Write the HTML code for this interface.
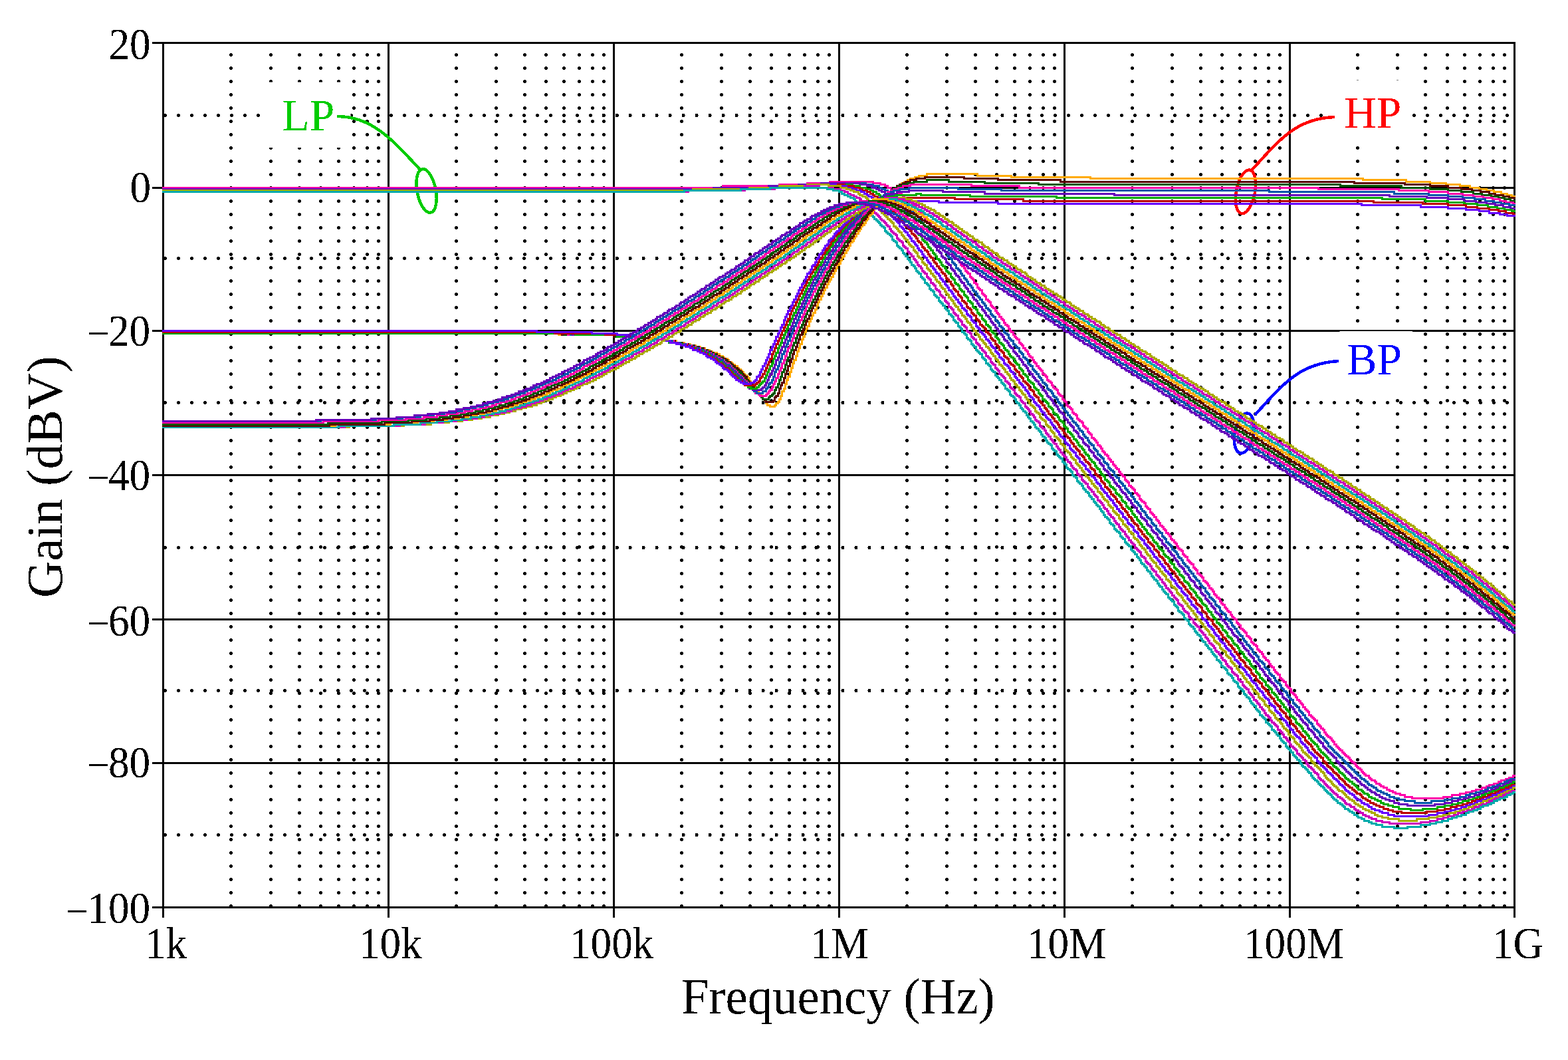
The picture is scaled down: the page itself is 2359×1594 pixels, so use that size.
<!DOCTYPE html>
<html lang="en"><head><meta charset="utf-8"><title>Filter gain versus frequency</title>
<style>html,body{margin:0;padding:0;background:#fff;overflow:hidden}svg{display:block}text{font-family:"Liberation Serif","DejaVu Serif",serif}</style></head>
<body>
<svg xmlns="http://www.w3.org/2000/svg" width="2359" height="1594" viewBox="0 0 2359 1594">
<defs><filter id="bin" x="-5%" y="-5%" width="110%" height="110%" color-interpolation-filters="sRGB"><feComponentTransfer><feFuncA type="discrete" tableValues="0 1"/></feComponentTransfer></filter></defs>
<rect width="2359" height="1594" fill="#fff"/>
<g stroke="#000" stroke-width="5" stroke-linecap="round" fill="none" shape-rendering="crispEdges">
<path stroke-dasharray="0 20" d="M347.5 82.5V1363M407.5 82.5V1363M450.5 82.5V1363M482.5 82.5V1363M509.5 82.5V1363M532.5 82.5V1363M552.5 82.5V1363M569.5 82.5V1363M686.5 82.5V1363M746.5 82.5V1363M789.5 82.5V1363M821.5 82.5V1363M848.5 82.5V1363M871.5 82.5V1363M891.5 82.5V1363M908.5 82.5V1363M1025.5 82.5V1363M1085.5 82.5V1363M1128.5 82.5V1363M1160.5 82.5V1363M1187.5 82.5V1363M1210.5 82.5V1363M1230.5 82.5V1363M1247.5 82.5V1363M1364.5 82.5V1363M1424.5 82.5V1363M1467.5 82.5V1363M1499.5 82.5V1363M1526.5 82.5V1363M1549.5 82.5V1363M1569.5 82.5V1363M1586.5 82.5V1363M1703.5 82.5V1363M1763.5 82.5V1363M1806.5 82.5V1363M1838.5 82.5V1363M1865.5 82.5V1363M1888.5 82.5V1363M1908.5 82.5V1363M1925.5 82.5V1363M2042.5 82.5V1363M2102.5 82.5V1363M2144.5 82.5V1363M2177.5 82.5V1363M2203.5 82.5V1363M2226.5 82.5V1363M2246.5 82.5V1363M2263.5 82.5V1363"/>
<path stroke-dasharray="0 19.99" d="M248.5 173.5H2270M248.5 388.5H2270M248.5 605.5H2270M248.5 823.5H2270M248.5 1038.5H2270M248.5 1255.5H2270"/>
</g>
<g stroke="#000" stroke-width="3" fill="none" shape-rendering="crispEdges">
<path d="M245.5 63V1380M584.5 63V1380M923.5 63V1380M1262.5 63V1380M1601.5 63V1380M1940.5 63V1380M2278.5 63V1380M229 64.5H2280M229 282.5H2280M229 497.5H2280M229 714.5H2280M229 931.5H2280M229 1147.5H2280M229 1364.5H2280"/>
</g>
<rect x="401" y="123.5" width="126.5" height="98.5" fill="#fff"/>
<rect x="1998" y="120.5" width="126" height="98.5" fill="#fff"/>
<rect x="2015.5" y="498" width="109.5" height="98.3" fill="#fff"/>
<g fill="none" stroke="#00cc00" stroke-width="4.5" stroke-linecap="butt" shape-rendering="crispEdges"><path d="M507 175C560 175 590 210 632 255"/><ellipse cx="641.6" cy="287" rx="14" ry="33.3" transform="rotate(-11 641.6 287)"/></g>
<g fill="none" stroke="#ff0000" stroke-width="4.5" stroke-linecap="butt" shape-rendering="crispEdges"><path d="M2008 176C1950 178 1925 210 1883 256"/><ellipse cx="1874" cy="288.3" rx="14" ry="33.3" transform="rotate(11 1874 288.3)"/></g>
<g fill="none" stroke="#0000ff" stroke-width="4.5" stroke-linecap="butt" shape-rendering="crispEdges"><path d="M2014 543C1955 546 1930 578 1888 624"/><ellipse cx="1871.8" cy="651.5" rx="14" ry="30.5" transform="rotate(11 1871.8 651.5)"/></g>
<g fill="none" stroke-width="3" stroke-linejoin="miter" stroke-linecap="butt" shape-rendering="crispEdges">
<path stroke="#ff00aa" d="M244 282.5h843.5v-3h85v-2h42v-2h34v-2h65v2h11v2h7v2h4v3h5v2h4v2h5v2h2v3h5v2h2v2h2v2h5v2h2v3h2v2h2v2h3v2h2v3h2v2h2v2h2v2h3v3h2v2h2v4h2v3h3v2h2v2h2v2h2v5h3v2h2v2h2v3h2v4h3v2h2v2h2v3h2v4h3v2h2v3h2v4h2v2h3v3h2v4h2v2h2v3h2v4h3v2h2v3h2v4h2v2h3v3h2v4h2v2h2v2h3v5h2v2h2v2h2v5h3v2h2v5h2v2h2v2h3v5h2v2h2v2h2v5h3v2h2v2h2v5h2v2h2v2h3v4h2v3h2v2h2v4h3v3h2v2h2v4h2v3h3v2h2v4h2v3h2v2h3v4h2v3h2v2h2v2h3v5h2v2h2v2h2v4h3v3h2v2h2v4h2v3h2v2h3v4h2v3h2v2h2v4h3v3h2v2h2v2h2v5h3v2h2v2h2v5h2v2h3v2h2v4h2v3h2v2h3v2h2v5h2v2h2v2h3v5h2v2h2v2h2v5h2v2h3v2h2v2h2v5h2v2h3v2h2v5h2v2h2v2h3v2h2v5h2v2h2v2h3v5h2v2h2v2h2v5h3v2h2v2h2v3h2v4h3v2h2v3h2v4h2v2h2v3h3v2h2v4h2v2h2v3h3v4h2v2h2v3h2v2h3v4h2v3h2v2h2v2h3v5h2v2h2v2h2v5h3v2h2v2h2v2h2v5h3v2h2v2h2v5h2v2h2v2h3v2h2v5h2v2h2v2h3v5h2v2h2v2h2v3h3v4h2v2h2v3h2v4h3v2h2v3h2v2h2v4h3v2h2v3h2v4h2v2h3v3h2v2h2v4h2v3h2v2h3v2h2v5h2v2h2v2h3v5h2v2h2v2h2v2h3v5h2v2h2v2h2v5h3v2h2v2h2v2h2v5h3v2h2v2h2v3h2v4h3v2h2v3h2v4h2v2h2v3h3v2h2v4h2v3h2v2h3v4h2v2h2v3h2v2h3v4h2v3h2v2h2v2h3v5h2v2h2v2h2v5h3v2h2v2h2v2h2v5h3v2h2v2h2v5h2v2h2v2h3v2h2v5h2v2h2v2h3v3h2v4h2v2h2v3h3v2h2v4h2v3h2v2h3v4h2v3h2v2h2v2h3v5h2v2h2v2h2v2h3v5h2v2h2v2h2v2h2v5h3v2h2v2h2v3h2v4h3v2h2v3h2v2h2v4h3v3h2v2h2v2h2v5h3v2h2v2h2v2h2v2h3v5h2v2h2v2h2v3h3v2h2v4h2v3h2v2h2v2h3v2h2v3h2v2h2v4h3v3h2v2h2v2h2v2h3v3h2v2h2v2h2v2h3v2h2v3h2v2h2v2h3v2h2v3h2v2h2v2h3v2h2v3h2v2h2v2h2v2h5v3h2v2h2v2h5v2h2v3h5v2h2v2h4v2h5v3h4v2h5v2h4v2h7v2h7v3h11v2h47v-2h13v-3h12v-2h9v-2h9v-2h6v-2h9v-3h7v-2h4v-2h7v-2h7v-3h4v-2h7v-2h5v-2h6v-3h3.5"/>
<path stroke="#0055aa" d="M244 284.5h836.5v-2h85v-3h43v-2h33v-2h61v2h11v2h9v3h4v2h5v2h4v2h5v3h2v2h5v2h2v2h2v2h5v3h2v2h2v2h2v2h3v3h2v2h2v2h2v2h3v3h2v2h2v2h2v2h2v5h3v2h2v2h2v3h2v2h3v4h2v3h2v2h2v2h3v4h2v3h2v2h2v4h3v3h2v2h2v2h2v5h3v2h2v2h2v5h2v2h3v2h2v5h2v2h2v2h2v5h3v2h2v2h2v4h2v3h3v4h2v2h2v3h2v4h3v2h2v3h2v4h2v2h3v3h2v4h2v2h2v3h3v4h2v2h2v3h2v4h3v2h2v2h2v5h2v2h2v2h3v5h2v2h2v2h2v5h3v2h2v2h2v5h2v2h3v2h2v5h2v2h2v2h3v5h2v2h2v2h2v2h3v5h2v2h2v2h2v5h3v2h2v2h2v5h2v2h2v2h3v5h2v2h2v2h2v3h3v4h2v2h2v3h2v4h3v2h2v2h2v5h2v2h3v2h2v3h2v4h2v2h3v3h2v4h2v2h2v3h3v4h2v2h2v3h2v2h2v4h3v3h2v2h2v4h2v2h3v3h2v2h2v4h2v3h3v2h2v4h2v3h2v2h3v4h2v3h2v2h2v2h3v5h2v2h2v2h2v5h3v2h2v2h2v2h2v5h2v2h3v2h2v5h2v2h2v2h3v2h2v5h2v2h2v2h3v5h2v2h2v2h2v3h3v4h2v2h2v3h2v2h3v4h2v2h2v3h2v4h3v2h2v3h2v2h2v4h2v3h3v2h2v4h2v3h2v2h3v2h2v5h2v2h2v2h3v5h2v2h2v2h2v2h3v5h2v2h2v2h2v5h3v2h2v2h2v2h2v5h3v2h2v2h2v3h2v4h2v2h3v3h2v4h2v2h2v3h3v2h2v4h2v2h2v3h3v4h2v2h2v3h2v2h3v4h2v3h2v2h2v2h3v5h2v2h2v2h2v5h3v2h2v2h2v2h2v5h2v2h3v2h2v5h2v2h2v2h3v2h2v5h2v2h2v2h3v3h2v4h2v2h2v3h3v4h2v2h2v3h2v2h3v4h2v3h2v2h2v4h3v2h2v3h2v2h2v4h2v3h3v2h2v2h2v5h2v2h3v2h2v2h2v5h2v2h3v2h2v5h2v2h2v2h3v3h2v4h2v2h2v2h3v3h2v4h2v2h2v3h3v2h2v4h2v3h2v2h2v2h3v5h2v2h2v2h2v2h3v5h2v2h2v2h2v3h3v4h2v2h2v2h2v3h3v2h2v4h2v3h2v2h3v2h2v2h2v5h2v2h3v2h2v3h2v2h2v2h2v5h3v2h2v2h2v2h2v3h3v2h2v2h2v2h2v2h3v3h2v2h2v2h2v2h3v3h2v2h2v2h2v2h3v3h2v2h2v2h2v2h3v3h2v2h4v2h2v2h3v3h2v2h4v2h3v2h4v3h2v2h5v2h4v2h5v2h4v3h7v2h7v2h9v2h15v3h25v-3h20v-2h11v-2h12v-2h9v-3h6v-2h9v-2h7v-2h7v-2h4v-3h7v-2h7v-2h4v-2h7v-3h4v-2h5v-2h7.5"/>
<path stroke="#6600bb" d="M244 284.5h829.5v-2h83v-3h45v-2h34v-2h58v2h11v2h7v3h7v2h4v2h4v2h5v3h2v2h5v2h2v2h2v2h5v3h2v2h2v2h2v2h3v3h2v2h2v2h2v2h3v3h2v2h2v2h2v2h3v3h2v4h2v2h2v3h2v2h3v2h2v5h2v2h2v2h3v2h2v5h2v2h2v2h3v5h2v2h2v2h2v5h3v2h2v2h2v5h2v2h3v2h2v5h2v2h2v2h3v5h2v2h2v2h2v4h2v3h3v2h2v4h2v3h2v2h3v4h2v3h2v2h2v4h3v3h2v2h2v4h2v3h3v2h2v4h2v3h2v2h3v4h2v2h2v3h2v4h3v2h2v3h2v4h2v2h2v3h3v4h2v2h2v3h2v4h3v2h2v3h2v4h2v2h3v3h2v4h2v2h2v2h3v5h2v2h2v2h2v3h3v4h2v2h2v3h2v4h3v2h2v3h2v4h2v2h2v3h3v4h2v2h2v3h2v2h3v4h2v2h2v3h2v4h3v2h2v3h2v4h2v2h3v3h2v2h2v4h2v3h3v2h2v4h2v3h2v2h3v2h2v5h2v2h2v2h2v4h3v3h2v2h2v2h2v5h3v2h2v2h2v5h2v2h3v2h2v5h2v2h2v2h3v2h2v5h2v2h2v2h3v5h2v2h2v2h2v2h3v5h2v2h2v2h2v5h2v2h3v2h2v3h2v4h2v2h3v3h2v4h2v2h2v3h3v2h2v4h2v3h2v2h3v2h2v4h2v3h2v2h3v4h2v3h2v2h2v2h3v5h2v2h2v2h2v5h2v2h3v2h2v2h2v5h2v2h3v2h2v5h2v2h2v2h3v2h2v5h2v2h2v2h3v5h2v2h2v2h2v3h3v4h2v2h2v3h2v2h3v4h2v3h2v2h2v4h2v3h3v2h2v2h2v4h2v3h3v2h2v4h2v3h2v2h3v2h2v5h2v2h2v2h3v2h2v5h2v2h2v2h3v5h2v2h2v2h2v3h3v4h2v2h2v2h2v5h2v2h3v2h2v3h2v4h2v2h3v3h2v2h2v4h2v3h3v2h2v4h2v3h2v2h3v2h2v5h2v2h2v2h3v4h2v3h2v2h2v2h3v5h2v2h2v2h2v2h2v5h3v2h2v2h2v3h2v4h3v2h2v3h2v4h2v2h3v3h2v2h2v4h2v2h3v3h2v2h2v4h2v3h3v2h2v2h2v5h2v2h3v2h2v2h2v5h2v2h2v2h3v3h2v4h2v2h2v3h3v2h2v4h2v2h2v3h3v2h2v2h2v5h2v2h3v2h2v2h2v3h2v4h3v2h2v3h2v2h2v2h3v5h2v2h2v2h2v2h2v3h3v2h2v2h2v2h2v2h3v5h2v2h2v2h2v3h3v2h2v2h2v2h2v3h3v2h2v2h2v2h2v3h5v2h2v2h2v2h3v3h2v2h4v2h2v2h3v3h4v2h2v2h5v2h2v2h5v3h4v2h5v2h6v2h7v3h7v2h13v2h41v-2h15v-2h11v-3h9v-2h9v-2h7v-2h9v-3h7v-2h6v-2h5v-2h7v-2h6v-3h5v-2h7v-2h4v-2h5v-3h4v-2h5.5"/>
<path stroke="#00aa00" d="M244 286.5h820.5v-2h86v-2h44v-3h36v-2h52v2h11v3h9v2h7v2h4v2h5v3h4v2h2v2h5v2h2v2h2v3h5v2h2v2h2v2h2v3h3v2h2v2h2v2h2v3h3v2h2v2h2v2h2v3h3v2h2v4h2v3h2v2h3v2h2v2h2v5h2v2h2v2h3v2h2v5h2v2h2v2h3v3h2v4h2v2h2v3h3v4h2v2h2v3h2v4h3v2h2v3h2v4h2v2h3v3h2v4h2v2h2v2h3v5h2v2h2v2h2v5h2v2h3v2h2v5h2v2h2v2h3v5h2v2h2v2h2v5h3v2h2v2h2v5h2v2h3v2h2v5h2v2h2v2h3v5h2v2h2v2h2v5h3v2h2v2h2v5h2v2h2v2h3v5h2v2h2v2h2v5h3v2h2v2h2v4h2v3h3v2h2v4h2v3h2v2h3v2h2v5h2v2h2v2h3v5h2v2h2v2h2v5h3v2h2v2h2v5h2v2h2v2h3v2h2v5h2v2h2v2h3v5h2v2h2v2h2v5h3v2h2v2h2v2h2v5h3v2h2v2h2v5h2v2h3v2h2v3h2v4h2v2h3v2h2v5h2v2h2v2h2v5h3v2h2v2h2v3h2v4h3v2h2v3h2v4h2v2h3v3h2v2h2v4h2v3h3v2h2v4h2v2h2v3h3v2h2v4h2v3h2v2h3v4h2v3h2v2h2v2h2v5h3v2h2v2h2v5h2v2h3v2h2v2h2v5h2v2h3v2h2v2h2v5h2v2h3v2h2v5h2v2h2v2h3v3h2v4h2v2h2v3h3v4h2v2h2v3h2v2h2v4h3v3h2v2h2v4h2v2h3v3h2v2h2v4h2v3h3v2h2v4h2v3h2v2h3v2h2v5h2v2h2v2h3v2h2v5h2v2h2v2h3v5h2v2h2v2h2v2h2v5h3v2h2v2h2v5h2v2h3v2h2v3h2v4h2v2h3v3h2v2h2v4h2v3h3v2h2v4h2v3h2v2h3v2h2v4h2v3h2v2h3v4h2v3h2v2h2v2h2v5h3v2h2v2h2v2h2v5h3v2h2v2h2v5h2v2h3v2h2v3h2v4h2v2h3v2h2v3h2v4h2v2h3v3h2v4h2v2h2v3h3v2h2v4h2v3h2v2h2v2h3v5h2v2h2v2h2v5h3v2h2v2h2v2h2v5h3v2h2v2h2v2h2v5h3v2h2v2h2v3h2v4h3v2h2v3h2v2h2v4h3v3h2v2h2v2h2v5h2v2h3v2h2v2h2v5h2v2h3v2h2v2h2v3h2v4h3v2h2v3h2v2h2v4h3v3h2v2h2v2h2v2h3v3h2v4h2v2h2v3h3v2h2v2h2v2h2v2h2v3h3v4h2v2h2v3h2v2h3v2h2v2h2v3h2v2h3v2h2v2h2v3h2v2h3v2h2v2h4v3h3v2h2v2h2v2h2v3h5v2h2v2h2v2h5v2h2v3h4v2h5v2h4v2h5v3h4v2h7v2h7v2h9v3h18v2h18v-2h22v-3h11v-2h11v-2h9v-2h7v-3h9v-2h7v-2h6v-2h7v-3h5v-2h6v-2h5v-2h7v-2h4v-3h7v-2h4v-2h5v-2h4v-3h3.5"/>
<path stroke="#bb0000" d="M244 286.5h814.5v-2h85v-2h42v-3h38v-2h47v2h14v3h9v2h4v2h7v2h5v3h4v2h2v2h5v2h2v2h2v3h5v2h2v2h2v2h2v3h3v2h2v2h2v2h2v3h3v2h2v2h2v2h2v3h3v2h2v2h2v5h2v2h3v2h2v2h2v3h2v4h3v2h2v2h2v3h2v4h2v2h3v3h2v4h2v2h2v3h3v2h2v4h2v3h2v2h3v4h2v3h2v2h2v4h3v3h2v2h2v4h2v2h3v3h2v4h2v2h2v3h3v4h2v2h2v5h2v2h2v2h3v5h2v2h2v2h2v5h3v2h2v2h2v5h2v2h3v2h2v5h2v2h2v2h3v5h2v2h2v2h2v5h3v2h2v2h2v2h2v5h3v2h2v2h2v5h2v2h2v2h3v5h2v2h2v2h2v5h3v2h2v2h2v5h2v2h3v2h2v5h2v2h2v2h3v2h2v5h2v2h2v2h3v5h2v2h2v2h2v5h3v2h2v2h2v2h2v5h2v2h3v2h2v5h2v2h2v2h3v5h2v2h2v2h2v3h3v4h2v2h2v3h2v4h3v2h2v3h2v2h2v4h3v2h2v3h2v4h2v2h3v3h2v4h2v2h2v3h2v2h3v4h2v3h2v2h2v4h3v3h2v2h2v2h2v5h3v2h2v2h2v4h2v3h3v2h2v2h2v5h2v2h3v2h2v5h2v2h2v2h3v2h2v5h2v2h2v2h2v5h3v2h2v2h2v3h2v4h3v2h2v2h2v3h2v4h3v2h2v3h2v4h2v2h3v3h2v2h2v4h2v3h3v2h2v4h2v3h2v2h3v2h2v5h2v2h2v2h2v4h3v3h2v2h2v2h2v5h3v2h2v2h2v2h2v5h3v2h2v2h2v5h2v2h3v2h2v3h2v4h2v2h3v3h2v4h2v2h2v2h3v3h2v4h2v2h2v3h2v4h3v2h2v3h2v2h2v4h3v3h2v2h2v2h2v5h3v2h2v2h2v5h2v2h3v2h2v2h2v5h2v2h3v2h2v5h2v2h2v2h3v2h2v5h2v2h2v2h2v3h3v4h2v2h2v3h2v4h3v2h2v3h2v2h2v4h3v2h2v3h2v2h2v4h3v3h2v2h2v4h2v3h3v2h2v2h2v5h2v2h3v2h2v2h2v5h2v2h2v2h3v5h2v2h2v2h2v2h3v5h2v2h2v2h2v3h3v4h2v2h2v3h2v2h3v4h2v3h2v2h2v2h3v5h2v2h2v2h2v2h3v5h2v2h2v2h2v2h2v5h3v2h2v2h2v3h2v4h3v2h2v3h2v2h2v2h3v5h2v2h2v2h2v2h3v3h2v4h2v2h2v3h3v2h2v2h2v2h2v2h3v5h2v2h2v2h2v3h2v2h3v2h2v2h2v3h2v2h3v2h2v2h2v3h2v2h3v2h2v2h2v3h2v2h3v2h2v2h4v3h3v2h2v2h2v2h5v2h2v3h2v2h4v2h3v2h4v3h5v2h4v2h5v2h6v3h7v2h7v2h13v2h38v-2h16v-2h11v-2h9v-3h9v-2h9v-2h7v-2h7v-3h6v-2h7v-2h4v-2h7v-3h5v-2h6v-2h5v-2h4v-2h7v-3h5v-2h4v-2h5.5"/>
<path stroke="#6600ff" d="M244 286.5h807.5v-2h85v-2h43v-3h40v-2h38v2h16v3h9v2h6v2h7v2h5v3h4v2h2v2h5v2h2v2h2v3h5v2h2v2h2v2h2v3h3v2h2v2h2v2h2v3h3v2h2v2h2v2h2v3h3v2h2v2h2v2h2v5h3v2h2v2h2v3h2v2h3v4h2v2h2v3h2v4h3v2h2v3h2v2h2v4h2v3h3v2h2v4h2v3h2v2h3v4h2v3h2v2h2v4h3v3h2v2h2v4h2v2h3v3h2v4h2v2h2v3h3v4h2v2h2v3h2v4h3v2h2v3h2v4h2v2h2v3h3v4h2v2h2v3h2v4h3v2h2v2h2v5h2v2h3v2h2v5h2v2h2v2h3v5h2v2h2v2h2v5h3v2h2v2h2v3h2v4h3v2h2v3h2v4h2v2h2v2h3v5h2v2h2v2h2v5h3v2h2v2h2v5h2v2h3v2h2v3h2v4h2v2h3v3h2v4h2v2h2v3h3v4h2v2h2v2h2v3h3v4h2v2h2v3h2v4h2v2h3v3h2v4h2v2h2v3h3v2h2v4h2v3h2v2h3v4h2v3h2v2h2v2h3v4h2v3h2v2h2v4h3v3h2v2h2v4h2v3h3v2h2v2h2v5h2v2h2v2h3v5h2v2h2v2h2v2h3v5h2v2h2v2h2v5h3v2h2v2h2v2h2v5h3v2h2v2h2v5h2v2h3v2h2v3h2v4h2v2h3v3h2v4h2v2h2v3h2v2h3v4h2v2h2v3h2v2h3v4h2v3h2v2h2v4h3v3h2v2h2v2h2v5h3v2h2v2h2v5h2v2h3v2h2v2h2v5h2v2h3v2h2v5h2v2h2v2h2v2h3v5h2v2h2v2h2v3h3v4h2v2h2v3h2v4h3v2h2v3h2v2h2v4h3v3h2v2h2v4h2v2h3v3h2v2h2v4h2v3h3v2h2v4h2v3h2v2h2v2h3v5h2v2h2v2h2v2h3v5h2v2h2v2h2v5h3v2h2v2h2v2h2v5h3v2h2v2h2v5h2v2h3v2h2v3h2v4h2v2h3v3h2v2h2v4h2v3h2v2h3v4h2v3h2v2h2v2h3v4h2v3h2v2h2v2h3v5h2v2h2v2h2v5h3v2h2v2h2v2h2v5h3v2h2v2h2v3h2v4h3v2h2v3h2v4h2v2h2v2h3v3h2v4h2v2h2v3h3v2h2v4h2v3h2v2h3v2h2v5h2v2h2v2h3v2h2v5h2v2h2v2h3v3h2v4h2v2h2v2h3v3h2v4h2v2h2v3h2v2h3v4h2v3h2v2h2v2h3v2h2v5h2v2h2v2h3v3h2v2h2v4h2v3h3v2h2v2h2v2h2v2h3v5h2v2h2v2h2v3h3v2h2v2h2v2h2v3h2v2h3v2h2v2h2v3h2v2h3v2h2v2h2v3h2v2h3v2h2v2h2v3h2v2h3v2h2v2h4v2h3v3h2v2h2v2h5v2h2v3h4v2h5v2h2v2h4v3h5v2h7v2h4v2h9v3h9v2h52v-2h13v-3h11v-2h9v-2h7v-2h9v-3h7v-2h6v-2h7v-2h4v-3h7v-2h7v-2h4v-2h5v-3h7v-2h4v-2h5v-2h4v-2h7v-3h4v-2h3.5"/>
<path stroke="#aaaa00" d="M244 286.5h798.5v-2h85v-2h45v-3h42v-2h32v2h18v3h9v2h6v2h5v2h7v3h2v2h4v2h5v2h2v2h2v3h5v2h2v2h2v2h3v3h2v2h2v2h2v2h2v3h3v2h2v2h2v2h2v3h3v2h2v2h2v2h2v5h3v2h2v2h2v3h2v2h3v4h2v2h2v3h2v2h3v4h2v3h2v2h2v2h3v5h2v2h2v2h2v5h2v2h3v2h2v5h2v2h2v2h3v5h2v2h2v2h2v4h3v3h2v2h2v4h2v3h3v2h2v4h2v3h2v2h3v4h2v3h2v2h2v4h3v3h2v2h2v4h2v3h2v2h3v4h2v2h2v3h2v4h3v2h2v3h2v4h2v2h3v3h2v4h2v2h2v3h3v4h2v2h2v3h2v4h3v2h2v3h2v2h2v4h3v2h2v3h2v4h2v2h2v3h3v4h2v2h2v3h2v4h3v2h2v3h2v2h2v4h3v3h2v2h2v4h2v3h3v2h2v4h2v2h2v3h3v4h2v2h2v3h2v2h3v4h2v3h2v2h2v4h2v3h3v2h2v2h2v5h2v2h3v2h2v5h2v2h2v2h3v2h2v5h2v2h2v2h3v5h2v2h2v2h2v5h3v2h2v2h2v2h2v5h3v2h2v2h2v5h2v2h2v2h3v3h2v4h2v2h2v2h3v5h2v2h2v2h2v3h3v4h2v2h2v3h2v4h3v2h2v3h2v2h2v4h3v3h2v2h2v2h2v5h3v2h2v2h2v4h2v3h2v2h3v2h2v5h2v2h2v2h3v5h2v2h2v2h2v2h3v5h2v2h2v2h2v5h3v2h2v2h2v3h2v4h3v2h2v2h2v5h2v2h3v2h2v3h2v4h2v2h2v3h3v2h2v4h2v3h2v2h3v4h2v3h2v2h2v2h3v5h2v2h2v2h2v4h3v3h2v2h2v2h2v5h3v2h2v2h2v5h2v2h3v2h2v2h2v5h2v2h2v2h3v3h2v4h2v2h2v3h3v4h2v2h2v2h2v3h3v4h2v2h2v3h2v4h3v2h2v3h2v2h2v4h3v3h2v2h2v2h2v5h3v2h2v2h2v5h2v2h2v2h3v2h2v5h2v2h2v2h3v2h2v5h2v2h2v2h3v5h2v2h2v2h2v3h3v4h2v2h2v3h2v2h3v4h2v3h2v2h2v4h3v2h2v3h2v2h2v4h2v3h3v2h2v2h2v5h2v2h3v2h2v2h2v5h2v2h3v2h2v5h2v2h2v2h3v3h2v4h2v2h2v2h3v3h2v2h2v4h2v3h3v2h2v2h2v5h2v2h2v2h3v2h2v5h2v2h2v2h3v3h2v2h2v4h2v3h3v2h2v2h2v2h2v2h3v5h2v2h2v2h2v3h3v2h2v2h2v2h2v3h3v2h2v4h2v3h2v2h2v2h3v2h2v3h2v2h2v2h3v2h2v3h2v2h5v2h2v2h2v2h2v3h3v2h2v2h4v2h3v3h2v2h4v2h3v2h4v3h4v2h5v2h4v2h5v3h4v2h7v2h9v2h16v3h27v-3h18v-2h13v-2h9v-2h9v-3h9v-2h7v-2h6v-2h7v-3h7v-2h4v-2h7v-2h4v-3h7v-2h5v-2h6v-2h5v-3h4v-2h5v-2h4v-2h5v-2h4v-3h3.5"/>
<path stroke="#cc00bb" d="M244 288.5h791.5v-2h85v-2h45v-2h45v-3h22v3h21v2h11v2h6v2h5v3h4v2h5v2h4v2h5v2h2v3h2v2h5v2h2v2h2v3h3v2h2v2h2v2h2v3h3v2h2v2h2v2h2v3h2v2h3v2h2v2h2v3h2v2h3v4h2v3h2v2h2v2h3v2h2v5h2v2h2v2h3v2h2v5h2v2h2v2h3v5h2v2h2v2h2v3h3v4h2v2h2v3h2v4h2v2h3v3h2v4h2v2h2v2h3v5h2v2h2v2h2v5h3v2h2v2h2v5h2v2h3v2h2v5h2v2h2v2h3v5h2v2h2v2h2v5h3v2h2v2h2v5h2v2h2v2h3v5h2v2h2v2h2v5h3v2h2v2h2v5h2v2h3v2h2v5h2v2h2v2h3v5h2v2h2v2h2v4h3v3h2v2h2v2h2v5h3v2h2v2h2v5h2v2h2v2h3v5h2v2h2v2h2v5h3v2h2v2h2v2h2v5h3v2h2v2h2v5h2v2h3v2h2v5h2v2h2v2h3v2h2v5h2v2h2v2h3v5h2v2h2v2h2v3h2v4h3v2h2v3h2v4h2v2h3v2h2v5h2v2h2v2h3v3h2v4h2v2h2v3h3v4h2v2h2v3h2v2h3v4h2v3h2v2h2v4h3v3h2v2h2v2h2v4h2v3h3v2h2v4h2v3h2v2h3v2h2v5h2v2h2v2h3v5h2v2h2v2h2v2h3v5h2v2h2v2h2v3h3v4h2v2h2v2h2v5h3v2h2v2h2v3h2v4h2v2h3v3h2v4h2v2h2v3h3v2h2v4h2v3h2v2h3v4h2v3h2v2h2v2h3v4h2v3h2v2h2v4h3v3h2v2h2v2h2v5h3v2h2v2h2v2h2v5h2v2h3v2h2v5h2v2h2v2h3v3h2v4h2v2h2v2h3v5h2v2h2v2h2v3h3v4h2v2h2v3h2v4h3v2h2v3h2v2h2v4h3v3h2v2h2v2h2v5h2v2h3v2h2v4h2v3h2v2h3v2h2v5h2v2h2v2h3v5h2v2h2v2h2v2h3v5h2v2h2v2h2v3h3v4h2v2h2v3h2v4h3v2h2v2h2v3h2v4h2v2h3v3h2v2h2v4h2v3h3v2h2v4h2v3h2v2h3v2h2v5h2v2h2v2h3v2h2v5h2v2h2v2h3v5h2v2h2v2h2v2h3v5h2v2h2v2h2v3h2v4h3v2h2v3h2v2h2v4h3v3h2v2h2v4h2v3h3v2h2v2h2v4h2v3h3v2h2v2h2v2h2v5h3v2h2v2h2v3h2v4h3v2h2v3h2v2h2v4h2v3h3v2h2v2h2v2h2v5h3v2h2v2h2v2h2v3h3v2h2v4h2v3h2v2h3v2h2v2h2v3h2v2h3v2h2v5h2v2h2v2h3v2h2v3h2v2h2v2h2v2h3v3h2v2h2v2h2v2h3v2h2v3h4v2h3v2h2v2h2v3h2v2h5v2h2v2h5v3h2v2h4v2h3v2h4v3h4v2h5v2h4v2h7v3h9v2h11v2h47v-2h14v-2h11v-3h9v-2h7v-2h9v-2h6v-3h7v-2h7v-2h7v-2h4v-3h7v-2h4v-2h7v-2h4v-3h5v-2h4v-2h7v-2h5v-3h4v-2h5v-2h4v-2h5.5"/>
<path stroke="#00aaaa" d="M244 288.5h785.5v-2h85v-2h44v-2h86v2h9v2h9v2h4v3h4v2h5v2h4v2h5v2h2v3h2v2h5v2h2v2h2v3h3v2h2v2h2v2h2v3h3v2h2v2h2v2h2v3h3v2h2v2h2v2h2v3h2v2h3v2h2v5h2v2h2v2h3v2h2v2h2v5h2v2h3v2h2v5h2v2h2v2h3v3h2v4h2v2h2v3h3v4h2v2h2v3h2v4h3v2h2v3h2v4h2v2h2v2h3v5h2v2h2v2h2v5h3v2h2v2h2v5h2v2h3v2h2v5h2v2h2v2h3v5h2v2h2v2h2v3h3v4h2v2h2v2h2v5h3v2h2v2h2v5h2v2h2v2h3v5h2v2h2v2h2v5h3v2h2v2h2v5h2v2h3v2h2v5h2v2h2v2h3v5h2v2h2v2h2v2h3v5h2v2h2v2h2v5h3v2h2v2h2v5h2v2h2v2h3v5h2v2h2v2h2v3h3v4h2v2h2v2h2v5h3v2h2v2h2v5h2v2h3v2h2v3h2v4h2v2h3v3h2v4h2v2h2v3h3v2h2v4h2v3h2v2h2v4h3v2h2v3h2v4h2v2h3v3h2v2h2v4h2v3h3v2h2v4h2v3h2v2h3v2h2v5h2v2h2v2h3v5h2v2h2v2h2v2h3v5h2v2h2v2h2v5h2v2h3v2h2v2h2v5h2v2h3v2h2v5h2v2h2v2h3v3h2v4h2v2h2v3h3v2h2v4h2v2h2v3h3v4h2v2h2v3h2v2h3v4h2v3h2v2h2v4h2v3h3v2h2v2h2v5h2v2h3v2h2v5h2v2h2v2h3v2h2v5h2v2h2v2h3v5h2v2h2v2h2v2h3v5h2v2h2v2h2v3h3v4h2v2h2v3h2v4h2v2h3v3h2v2h2v4h2v2h3v3h2v4h2v2h2v3h3v2h2v4h2v3h2v2h3v4h2v3h2v2h2v2h3v5h2v2h2v2h2v2h3v5h2v2h2v2h2v5h2v2h3v2h2v2h2v5h2v2h3v2h2v5h2v2h2v2h3v3h2v4h2v2h2v3h3v2h2v4h2v3h2v2h3v4h2v2h2v3h2v2h3v4h2v3h2v2h2v2h2v5h3v2h2v2h2v5h2v2h3v2h2v2h2v5h2v2h3v2h2v3h2v4h2v2h3v2h2v5h2v2h2v2h3v3h2v4h2v2h2v3h3v2h2v4h2v3h2v2h2v2h3v5h2v2h2v2h2v5h3v2h2v2h2v2h2v5h3v2h2v2h2v2h2v5h3v2h2v2h2v3h2v2h3v4h2v3h2v2h2v2h3v5h2v2h2v2h2v2h2v3h3v4h2v2h2v2h2v3h3v2h2v4h2v3h2v2h3v2h2v2h2v3h2v2h3v4h2v3h2v2h2v2h3v2h2v3h2v2h2v2h3v2h2v3h2v2h2v2h2v2h3v2h2v3h2v2h2v2h3v2h2v3h4v2h3v2h2v2h2v3h5v2h2v2h4v2h3v3h4v2h2v2h5v2h4v3h7v2h4v2h7v2h9v3h18v2h20v-2h20v-3h14v-2h9v-2h9v-2h9v-3h6v-2h7v-2h7v-2h7v-3h4v-2h7v-2h6v-2h5v-3h4v-2h7v-2h5v-2h4v-3h5v-2h4v-2h7v-2h4v-3h5v-2h4v-2h3.5"/>
<path stroke="#ffaa00" d="M244 501.5h596.5v2h83v3h36v2h25v2h18v2h15v3h12v2h9v2h8v2h7v2h7v3h7v2h4v2h7v2h4v3h5v2h2v2h5v2h2v3h4v2h2v2h3v2h4v3h2v2h3v2h2v2h2v3h2v2h3v2h2v2h2v5h2v2h3v2h2v5h2v2h2v2h3v5h2v2h2v4h2v3h3v2h2v4h2v3h4v2h7v-2h2v-3h3v-2h2v-4h2v-5h2v-7h3v-4h2v-7h2v-6h2v-5h3v-7h2v-6h2v-7h2v-5h3v-6h2v-7h2v-5h2v-6h3v-7h2v-4h2v-7h2v-5h2v-4h3v-7h2v-4h2v-5h2v-4h3v-5h2v-6h2v-5h2v-4h3v-5h2v-4h2v-5h2v-4h3v-5h2v-4h2v-3h2v-4h3v-5h2v-4h2v-4h2v-5h3v-2h2v-5h2v-4h2v-2h2v-5h3v-4h2v-3h2v-4h2v-5h3v-2h2v-4h2v-3h2v-4h3v-4h2v-3h2v-4h2v-2h3v-3h2v-4h2v-2h2v-5h3v-2h2v-2h2v-5h2v-2h3v-2h2v-3h2v-2h2v-4h2v-3h3v-2h2v-2h2v-2h2v-2h3v-3h2v-2h4v-2h3v-2h2v-3h4v-2h3v-2h4v-2h5v-3h4v-2h7v-2h6v-2h12v-3h76v3h51v2h119v2h410v2h65v3h36v2h24v2h21v2h15v3h14v2h11v2h11v2h11v3h9v2h7v2h5.5"/>
<path stroke="#5a0000" d="M244 501.5h601.5v2h78v3h38v2h23v2h18v2h13v3h11v2h9v2h9v2h7v2h7v3h6v2h5v2h4v2h5v3h4v2h5v2h4v2h3v3h4v2h2v2h2v2h3v3h4v2h2v2h3v2h2v3h2v2h2v2h3v5h2v2h2v2h2v2h3v5h2v2h2v2h2v5h3v2h2v2h2v2h2v3h3v2h2v2h11v-2h2v-5h2v-2h3v-4h2v-7h2v-5h2v-4h3v-7h2v-6h2v-5h2v-7h3v-6h2v-5h2v-7h2v-6h3v-5h2v-6h2v-5h2v-7h3v-4h2v-5h2v-6h2v-5h2v-4h3v-5h2v-7h2v-4h2v-4h3v-5h2v-4h2v-5h2v-4h3v-5h2v-4h2v-5h2v-4h3v-5h2v-4h2v-3h2v-4h3v-4h2v-5h2v-2h2v-5h3v-4h2v-5h2v-2h2v-4h2v-5h3v-2h2v-5h2v-2h2v-4h3v-3h2v-4h2v-4h2v-3h3v-2h2v-4h2v-3h2v-4h3v-2h2v-3h2v-4h2v-2h3v-3h2v-2h2v-4h2v-3h3v-2h2v-2h2v-2h2v-3h2v-2h3v-2h2v-2h2v-2h2v-3h5v-2h2v-2h5v-2h2v-3h4v-2h5v-2h4v-2h7v-3h9v-2h13v-2h59v2h51v2h94v3h442v2h76v2h38v2h27v3h20v2h16v2h13v2h13v3h9v2h12v2h9v2h9.5"/>
<path stroke="#005500" d="M244 501.5h605.5v2h77v3h35v2h23v2h15v2h14v3h11v2h9v2h9v2h7v2h6v3h7v2h5v2h4v2h5v3h4v2h5v2h2v2h4v3h3v2h4v2h2v2h2v3h3v2h2v2h4v2h3v3h2v4h2v2h2v3h3v2h2v2h2v2h2v5h3v2h2v2h2v2h2v3h3v2h2v2h2v2h2v3h9v-3h2v-2h3v-2h2v-2h2v-5h2v-4h3v-5h2v-6h2v-5h2v-7h3v-4h2v-7h2v-7h2v-4h3v-7h2v-4h2v-7h2v-4h3v-7h2v-5h2v-6h2v-5h3v-4h2v-5h2v-7h2v-4h2v-5h3v-4h2v-4h2v-5h2v-4h3v-5h2v-4h2v-5h2v-4h3v-5h2v-4h2v-5h2v-4h3v-5h2v-2h2v-4h2v-5h3v-4h2v-3h2v-4h2v-5h3v-2h2v-4h2v-5h2v-2h2v-5h3v-2h2v-4h2v-3h2v-4h3v-2h2v-5h2v-2h2v-4h3v-3h2v-2h2v-4h2v-3h3v-2h2v-4h2v-3h2v-2h3v-2h2v-2h2v-3h2v-2h3v-2h2v-2h2v-3h2v-2h2v-2h3v-2h4v-2h2v-3h5v-2h2v-2h5v-2h4v-3h7v-2h7v-2h9v-2h20v-3h33v3h54v2h81v2h454v2h92v3h43v2h27v2h20v2h18v3h13v2h14v2h11v2h9v2h9v3h7.5"/>
<path stroke="#ff00aa" d="M244 501.5h610.5v2h74v3h33v2h21v2h17v2h14v3h9v2h11v2h7v2h6v2h7v3h7v2h4v2h5v2h4v3h5v2h4v2h3v2h4v3h2v2h5v2h2v2h2v3h2v2h3v2h2v2h2v3h2v2h3v2h2v2h2v3h2v2h3v2h2v2h2v2h2v5h3v2h2v2h2v3h5v2h2v2h9v-2h2v-2h2v-3h2v-2h3v-4h2v-5h2v-4h2v-5h3v-6h2v-5h2v-4h2v-7h3v-5h2v-6h2v-7h2v-5h3v-4h2v-7h2v-4h2v-7h3v-4h2v-5h2v-7h2v-4h3v-5h2v-4h2v-5h2v-6h2v-5h3v-4h2v-5h2v-4h2v-5h3v-4h2v-5h2v-2h2v-4h3v-5h2v-4h2v-5h2v-4h3v-2h2v-5h2v-4h2v-5h3v-2h2v-5h2v-4h2v-2h3v-5h2v-2h2v-5h2v-2h2v-4h3v-3h2v-4h2v-2h2v-5h3v-2h2v-2h2v-5h2v-2h3v-2h2v-5h2v-2h2v-2h3v-2h2v-3h2v-2h2v-2h3v-2h2v-3h2v-2h2v-2h3v-2h2v-3h2v-2h4v-2h3v-2h4v-2h2v-3h5v-2h4v-2h7v-2h7v-3h11v-2h92v2h72v3h450v2h121v2h45v2h29v3h22v2h16v2h15v2h14v2h11v3h9v2h11v2h3.5"/>
<path stroke="#0055aa" d="M244 501.5h614.5v2h70v3h31v2h23v2h15v2h14v3h11v2h9v2h7v2h6v2h7v3h7v2h4v2h5v2h4v3h5v2h2v2h4v2h5v3h2v2h2v2h5v2h2v3h2v2h2v2h3v2h2v3h2v2h2v2h3v2h2v3h2v2h2v2h3v2h2v2h2v3h2v2h3v2h2v2h4v3h9v-3h5v-4h2v-2h2v-5h2v-2h3v-4h2v-5h2v-7h2v-4h3v-5h2v-6h2v-5h2v-7h3v-4h2v-7h2v-4h2v-5h3v-6h2v-5h2v-7h2v-4h3v-5h2v-4h2v-5h2v-6h3v-5h2v-4h2v-5h2v-4h2v-5h3v-4h2v-5h2v-4h2v-5h3v-4h2v-5h2v-2h2v-4h3v-5h2v-4h2v-2h2v-5h3v-4h2v-5h2v-2h2v-5h3v-4h2v-2h2v-5h2v-2h3v-5h2v-2h2v-4h2v-3h2v-4h3v-2h2v-5h2v-2h2v-2h3v-2h2v-5h2v-2h2v-2h3v-3h2v-2h2v-4h2v-3h3v-2h2v-2h2v-2h2v-3h5v-2h2v-2h2v-2h3v-3h4v-2h4v-2h3v-2h4v-2h7v-3h4v-2h9v-2h14v-2h74v2h65v2h403v2h188v3h52v2h29v2h22v2h18v2h16v3h13v2h11v2h12v2h9.5"/>
<path stroke="#6600bb" d="M244 501.5h617.5v2h67v3h31v2h23v2h13v2h13v3h12v2h9v2h6v2h7v2h7v3h4v2h7v2h4v2h5v3h4v2h3v2h4v2h2v3h5v2h2v2h2v2h5v3h2v2h2v2h2v2h3v3h2v2h2v2h2v2h3v3h2v2h2v2h2v2h3v2h2v3h2v2h5v2h13v-2h2v-2h3v-3h2v-4h2v-4h2v-5h2v-4h3v-5h2v-4h2v-5h2v-7h3v-4h2v-7h2v-4h2v-5h3v-6h2v-5h2v-4h2v-7h3v-5h2v-4h2v-5h2v-6h3v-5h2v-4h2v-5h2v-4h3v-5h2v-4h2v-5h2v-4h2v-5h3v-4h2v-5h2v-4h2v-5h3v-4h2v-2h2v-5h2v-4h3v-5h2v-2h2v-4h2v-5h3v-2h2v-5h2v-4h2v-2h3v-5h2v-2h2v-5h2v-2h3v-4h2v-3h2v-4h2v-2h2v-2h3v-5h2v-2h2v-2h2v-3h3v-2h2v-4h2v-3h2v-2h3v-2h2v-2h2v-3h2v-2h3v-2h2v-2h4v-3h3v-2h2v-2h4v-2h5v-3h2v-2h7v-2h4v-2h7v-2h9v-3h18v-2h51v2h63v3h195v2h414v2h56v2h32v2h24v3h18v2h16v2h13v2h12v3h11v2h7.5"/>
<path stroke="#00aa00" d="M244 501.5h621.5v2h63v3h31v2h20v2h16v2h11v3h11v2h9v2h7v2h7v2h6v3h5v2h7v2h4v2h5v3h2v2h4v2h5v2h2v3h5v2h2v2h2v2h2v3h5v2h2v2h2v2h2v3h3v2h2v2h2v2h2v3h3v2h2v2h2v2h5v2h2v3h4v2h9v-2h3v-3h2v-2h2v-2h2v-2h3v-5h2v-4h2v-5h2v-4h2v-5h3v-4h2v-7h2v-4h2v-5h3v-7h2v-4h2v-4h2v-7h3v-5h2v-4h2v-5h2v-6h3v-5h2v-4h2v-5h2v-4h3v-5h2v-4h2v-5h2v-6h3v-3h2v-4h2v-5h2v-4h2v-5h3v-4h2v-5h2v-4h2v-2h3v-5h2v-4h2v-5h2v-2h3v-4h2v-5h2v-2h2v-5h3v-4h2v-2h2v-5h2v-2h3v-5h2v-2h2v-2h2v-5h3v-2h2v-4h2v-2h2v-3h2v-2h3v-4h2v-3h2v-2h2v-2h3v-2h2v-3h2v-2h2v-2h3v-2h2v-3h2v-2h5v-2h2v-2h2v-3h5v-2h4v-2h5v-2h4v-3h4v-2h9v-2h12v-2h31v-2h7v2h74v2h130v2h490v2h65v3h34v2h24v2h20v2h16v3h14v2h11v2h11v2h5.5"/>
<path stroke="#bb0000" d="M244 499.5h590.5v2h76v2h33v3h23v2h18v2h13v2h11v3h9v2h7v2h9v2h7v2h4v3h7v2h4v2h5v2h4v3h3v2h4v2h5v2h2v3h2v2h5v2h2v2h2v3h5v2h2v2h2v2h2v3h2v2h3v2h2v2h2v3h2v2h5v2h2v2h2v2h16v-2h2v-2h3v-2h2v-5h2v-2h2v-4h3v-5h2v-4h2v-5h2v-4h2v-5h3v-7h2v-4h2v-5h2v-6h3v-5h2v-4h2v-5h2v-6h3v-5h2v-4h2v-5h2v-4h3v-7h2v-5h2v-4h2v-4h3v-5h2v-4h2v-5h2v-4h3v-5h2v-4h2v-3h2v-4h2v-5h3v-4h2v-5h2v-2h2v-4h3v-5h2v-2h2v-4h2v-5h3v-2h2v-5h2v-2h2v-4h3v-3h2v-4h2v-2h2v-5h3v-2h2v-5h2v-2h2v-2h3v-2h2v-5h2v-2h2v-2h2v-2h3v-3h2v-2h2v-2h2v-2h3v-3h2v-2h2v-2h2v-2h5v-3h2v-2h2v-2h5v-2h4v-3h5v-2h4v-2h7v-2h9v-3h13v-2h92v2h103v3h527v2h74v2h38v2h27v3h17v2h18v2h14v2h11v3h11v2h3.5"/>
<path stroke="#6600ff" d="M244 497.5h563.5v2h83v2h38v2h24v3h18v2h16v2h11v2h11v3h9v2h7v2h7v2h7v2h4v3h7v2h4v2h5v2h4v3h2v2h5v2h4v2h3v3h2v2h4v2h3v2h2v3h2v2h5v2h2v2h2v3h2v2h2v2h3v2h2v3h4v2h3v2h4v2h11v-2h5v-2h2v-2h2v-5h3v-2h2v-5h2v-4h2v-5h3v-4h2v-5h2v-4h2v-5h2v-6h3v-5h2v-4h2v-5h2v-6h3v-5h2v-4h2v-5h2v-4h3v-7h2v-5h2v-4h2v-5h3v-4h2v-4h2v-5h2v-4h3v-5h2v-4h2v-5h2v-4h3v-5h2v-2h2v-5h2v-4h2v-5h3v-2h2v-4h2v-5h2v-2h3v-4h2v-5h2v-2h2v-5h3v-2h2v-4h2v-3h2v-4h3v-2h2v-5h2v-2h2v-2h3v-3h2v-4h2v-2h2v-2h3v-3h2v-2h2v-2h2v-2h2v-3h3v-2h2v-2h2v-2h2v-3h3v-2h4v-2h2v-2h3v-3h4v-2h5v-2h4v-2h7v-3h7v-2h8v-2h16v-2h70v2h89v2h547v2h89v3h41v2h27v2h20v2h15v3h16v2h11v2h12.5"/>
<path stroke="#aaaa00" d="M244 642.5h281.5v-2h82v-2h41v-3h27v-2h20v-2h15v-2h14v-2h13v-3h12v-2h9v-2h8v-2h9v-3h9v-2h7v-2h9v-2h7v-3h7v-2h4v-2h7v-2h6v-3h5v-2h7v-2h4v-2h5v-3h6v-2h5v-2h4v-2h5v-3h4v-2h7v-2h4v-2h5v-2h4v-3h5v-2h4v-2h3v-2h4v-3h5v-2h4v-2h5v-2h4v-3h4v-2h3v-2h4v-2h5v-3h4v-2h5v-2h2v-2h4v-3h5v-2h2v-2h5v-2h4v-3h5v-2h2v-2h4v-2h5v-2h2v-3h4v-2h5v-2h2v-2h5v-3h2v-2h4v-2h5v-2h2v-3h5v-2h4v-2h2v-2h5v-3h2v-2h4v-2h5v-2h2v-3h5v-2h2v-2h4v-2h5v-3h2v-2h5v-2h2v-2h4v-2h3v-3h4v-2h2v-2h5v-2h4v-3h2v-2h5v-2h2v-2h5v-3h2v-2h4v-2h3v-2h4v-3h2v-2h5v-2h2v-2h5v-3h2v-2h4v-2h3v-2h4v-3h2v-2h5v-2h2v-2h4v-2h3v-3h4v-2h2v-2h5v-2h2v-3h5v-2h2v-2h4v-2h3v-3h4v-2h2v-2h3v-2h4v-3h2v-2h5v-2h2v-2h4v-3h3v-2h2v-2h4v-2h3v-3h4v-2h2v-2h3v-2h4v-2h2v-3h5v-2h2v-2h5v-2h2v-3h2v-2h4v-2h3v-2h4v-3h2v-2h5v-2h2v-2h5v-3h4v-2h2v-2h5v-2h4v-3h5v-2h4v-2h5v-2h6v-3h9v-2h27v2h9v3h7v2h4v2h5v2h4v3h5v2h4v2h5v2h2v3h5v2h2v2h4v2h3v3h4v2h2v2h5v2h2v3h4v2h3v2h2v2h4v3h3v2h4v2h2v2h3v2h4v3h2v2h5v2h2v2h5v3h2v2h2v2h5v2h2v3h4v2h2v2h5v2h2v3h2v2h5v2h2v2h5v3h2v2h4v2h3v2h4v3h2v2h5v2h2v2h5v2h2v3h2v2h4v2h3v2h4v3h2v2h5v2h2v2h5v3h2v2h4v2h3v2h4v3h5v2h2v2h4v2h3v3h4v2h2v2h5v2h2v3h4v2h3v2h4v2h2v2h5v3h2v2h5v2h2v2h4v3h5v2h2v2h5v2h2v3h4v2h2v2h5v2h2v3h5v2h2v2h4v2h5v3h2v2h5v2h2v2h4v3h3v2h4v2h2v2h5v2h2v3h4v2h5v2h2v2h5v3h2v2h4v2h3v2h4v3h5v2h2v2h4v2h3v3h4v2h2v2h5v2h2v3h4v2h5v2h2v2h5v3h2v2h4v2h3v2h4v2h2v3h5v2h4v2h3v2h4v3h2v2h5v2h2v2h4v3h3v2h4v2h5v2h2v3h4v2h3v2h4v2h2v3h5v2h4v2h3v2h4v3h2v2h5v2h2v2h4v2h3v3h4v2h5v2h2v2h4v3h3v2h4v2h2v2h5v3h2v2h5v2h4v2h2v3h5v2h2v2h4v2h3v3h4v2h2v2h5v2h4v3h3v2h4v2h2v2h5v2h2v3h5v2h2v2h4v2h3v3h4v2h2v2h5v2h4v3h2v2h5v2h2v2h5v3h2v2h4v2h3v2h4v3h2v2h5v2h2v2h5v3h2v2h4v2h2v2h5v2h2v3h5v2h2v2h4v2h3v3h4v2h2v2h5v2h2v3h5v2h2v2h4v2h3v3h4v2h2v2h5v2h2v3h4v2h3v2h4v2h2v3h3v2h4v2h2v2h5v2h2v3h5v2h2v2h2v2h5v3h2v2h4v2h2v2h3v3h4v2h2v2h3v2h4v3h2v2h3v2h4v2h2v3h3v2h4v2h2v2h3v3h4v2h2v2h3v2h2v2h4v3h2v2h3v2h2v2h4v3h3v2h2v2h2v2h5v3h2v2h2v2h2v2h3v3h4v2h2v2h3v2h2v3h2v2h2v2h3v2h4v3h2v2h3.5"/>
<path stroke="#cc00bb" d="M244 642.5h274.5v-2h83v-2h38v-3h27v-2h20v-2h16v-2h15v-2h11v-3h12v-2h11v-2h9v-2h9v-3h6v-2h9v-2h7v-2h7v-3h7v-2h6v-2h5v-2h6v-3h7v-2h5v-2h6v-2h5v-3h4v-2h5v-2h7v-2h4v-3h5v-2h4v-2h4v-2h5v-2h4v-3h5v-2h4v-2h5v-2h4v-3h5v-2h4v-2h3v-2h4v-3h5v-2h4v-2h4v-2h3v-3h4v-2h5v-2h4v-2h2v-3h5v-2h4v-2h5v-2h2v-3h5v-2h4v-2h2v-2h5v-2h4v-3h2v-2h5v-2h4v-2h3v-3h4v-2h5v-2h2v-2h4v-3h3v-2h4v-2h5v-2h2v-3h4v-2h3v-2h4v-2h4v-3h3v-2h4v-2h2v-2h5v-3h4v-2h3v-2h4v-2h2v-2h5v-3h2v-2h5v-2h2v-2h4v-3h5v-2h2v-2h4v-2h3v-3h4v-2h2v-2h5v-2h2v-3h5v-2h2v-2h4v-2h3v-3h4v-2h2v-2h5v-2h2v-3h5v-2h2v-2h4v-2h2v-2h5v-3h2v-2h5v-2h2v-2h4v-3h3v-2h4v-2h2v-2h5v-3h2v-2h2v-2h5v-2h2v-3h5v-2h2v-2h4v-2h2v-3h5v-2h2v-2h2v-2h5v-3h2v-2h5v-2h2v-2h2v-2h5v-3h2v-2h4v-2h3v-2h4v-3h2v-2h5v-2h2v-2h4v-3h3v-2h4v-2h2v-2h5v-3h2v-2h5v-2h4v-2h5v-3h4v-2h5v-2h6v-2h7v-3h9v-2h18v2h11v3h7v2h7v2h4v2h4v3h5v2h4v2h3v2h4v3h5v2h2v2h4v2h3v3h4v2h2v2h5v2h2v3h5v2h2v2h2v2h4v3h3v2h4v2h2v2h3v2h4v3h2v2h5v2h2v2h5v3h2v2h2v2h5v2h2v3h4v2h3v2h4v2h2v3h2v2h5v2h2v2h5v3h2v2h4v2h3v2h4v3h2v2h5v2h2v2h5v2h2v3h4v2h3v2h4v2h2v3h5v2h2v2h4v2h3v3h4v2h2v2h5v2h2v3h5v2h2v2h4v2h3v3h4v2h2v2h5v2h2v3h4v2h3v2h4v2h2v2h5v3h2v2h5v2h4v2h2v3h5v2h2v2h5v2h2v3h4v2h3v2h4v2h2v3h5v2h4v2h2v2h5v3h2v2h5v2h2v2h4v3h3v2h4v2h5v2h2v2h4v3h3v2h4v2h2v2h5v3h2v2h4v2h5v2h2v3h5v2h2v2h4v2h3v3h4v2h2v2h5v2h4v3h3v2h4v2h2v2h5v3h2v2h4v2h3v2h4v2h5v3h2v2h4v2h3v2h4v3h2v2h5v2h4v2h3v3h4v2h2v2h5v2h2v3h4v2h3v2h4v2h5v3h2v2h4v2h3v2h4v3h2v2h5v2h2v2h5v2h4v3h2v2h5v2h2v2h4v3h3v2h4v2h5v2h2v3h4v2h3v2h4v2h2v3h5v2h2v2h5v2h4v3h2v2h5v2h2v2h4v3h3v2h4v2h2v2h5v2h2v3h5v2h4v2h2v2h5v3h2v2h5v2h2v2h4v3h2v2h5v2h2v2h5v3h2v2h4v2h5v2h2v3h5v2h2v2h4v2h3v3h4v2h2v2h5v2h2v2h4v3h3v2h4v2h2v2h5v3h2v2h5v2h2v2h4v3h3v2h4v2h2v2h5v3h2v2h5v2h2v2h4v3h2v2h5v2h2v2h2v3h5v2h2v2h5v2h2v2h4v3h3v2h4v2h2v2h3v3h4v2h2v2h5v2h2v3h2v2h5v2h2v2h2v3h5v2h2v2h4v2h3v3h2v2h4v2h3v2h2v3h2v2h5v2h2v2h2v2h5v3h2v2h2v2h2v2h5v3h2v2h2v2h2v2h5v3h2v2h2v2h3v2h4v3h2v2h3v2h2v2h2v3h2v2h5v2h2v2h2v3h3v2h2v2h2v2h2v2h3.5"/>
<path stroke="#00aaaa" d="M244 642.5h265.5v-2h83v-2h40v-3h25v-2h22v-2h16v-2h13v-2h14v-3h11v-2h9v-2h9v-2h9v-3h9v-2h6v-2h7v-2h7v-3h7v-2h6v-2h7v-2h7v-3h4v-2h7v-2h4v-2h5v-3h7v-2h4v-2h5v-2h4v-3h5v-2h4v-2h5v-2h6v-2h2v-3h5v-2h4v-2h5v-2h4v-3h5v-2h4v-2h5v-2h4v-3h3v-2h4v-2h5v-2h4v-3h4v-2h3v-2h4v-2h5v-3h4v-2h2v-2h5v-2h4v-3h3v-2h4v-2h5v-2h2v-2h4v-3h5v-2h2v-2h4v-2h5v-3h2v-2h5v-2h4v-2h2v-3h5v-2h2v-2h5v-2h4v-3h2v-2h5v-2h2v-2h5v-3h4v-2h2v-2h5v-2h2v-3h4v-2h5v-2h2v-2h5v-2h2v-3h4v-2h3v-2h4v-2h2v-3h5v-2h4v-2h3v-2h4v-3h2v-2h5v-2h2v-2h4v-3h3v-2h4v-2h2v-2h5v-3h2v-2h5v-2h2v-2h4v-3h3v-2h4v-2h2v-2h5v-2h2v-3h4v-2h3v-2h4v-2h2v-3h5v-2h2v-2h5v-2h2v-3h4v-2h3v-2h2v-2h4v-3h3v-2h4v-2h2v-2h5v-3h2v-2h2v-2h5v-2h2v-3h4v-2h3v-2h4v-2h2v-2h3v-3h4v-2h2v-2h5v-2h2v-3h5v-2h2v-2h4v-2h3v-3h4v-2h2v-2h5v-2h4v-3h2v-2h5v-2h4v-2h5v-3h4v-2h5v-2h7v-2h9v-3h31v3h7v2h6v2h5v2h4v3h5v2h4v2h5v2h4v3h2v2h5v2h4v2h3v3h4v2h2v2h5v2h2v3h2v2h5v2h2v2h5v3h2v2h4v2h2v2h3v2h4v3h2v2h5v2h2v2h5v3h2v2h2v2h5v2h2v3h4v2h3v2h4v2h2v3h5v2h2v2h2v2h5v3h2v2h4v2h3v2h4v3h2v2h5v2h2v2h5v2h2v3h4v2h3v2h4v2h2v3h5v2h2v2h4v2h3v3h4v2h2v2h5v2h2v3h5v2h2v2h4v2h3v3h4v2h2v2h5v2h2v3h5v2h2v2h4v2h5v2h2v3h4v2h3v2h4v2h2v3h5v2h2v2h5v2h2v3h4v2h3v2h4v2h5v3h2v2h4v2h2v2h5v3h2v2h5v2h2v2h4v3h5v2h2v2h5v2h2v2h4v3h3v2h4v2h2v2h5v3h4v2h2v2h5v2h2v3h5v2h2v2h4v2h3v3h4v2h5v2h2v2h4v3h3v2h4v2h2v2h5v3h2v2h4v2h5v2h2v2h5v3h2v2h4v2h3v2h4v3h5v2h2v2h4v2h3v3h4v2h2v2h5v2h2v3h4v2h5v2h2v2h5v3h2v2h4v2h3v2h4v3h2v2h5v2h4v2h3v2h4v3h2v2h5v2h2v2h4v3h5v2h2v2h5v2h2v3h4v2h3v2h4v2h2v3h5v2h4v2h3v2h4v3h2v2h5v2h2v2h4v3h3v2h4v2h5v2h2v2h4v3h3v2h4v2h2v2h5v3h2v2h5v2h2v2h4v3h5v2h2v2h4v2h3v3h4v2h2v2h5v2h2v3h5v2h2v2h4v2h3v3h4v2h2v2h5v2h2v2h5v3h4v2h2v2h5v2h2v3h4v2h3v2h4v2h2v3h5v2h2v2h5v2h2v3h4v2h3v2h4v2h2v3h3v2h4v2h2v2h5v3h2v2h4v2h3v2h4v2h2v3h5v2h2v2h2v2h5v3h2v2h5v2h2v2h4v3h3v2h2v2h4v2h2v3h3v2h4v2h2v2h5v3h2v2h2v2h5v2h2v3h2v2h5v2h2v2h2v2h5v3h2v2h2v2h3v2h4v3h2v2h2v2h3v2h4v3h2v2h3v2h2v2h4v3h3v2h2v2h2v2h2v3h5v2h2v2h2v2h3v3h2v2h2v2h5v2h2v2h2v3h2v2h3.5"/>
<path stroke="#ffaa00" d="M244 640.5h260.5v-2h83v-3h41v-2h24v-2h20v-2h18v-2h14v-3h13v-2h11v-2h9v-2h9v-3h9v-2h9v-2h7v-2h7v-3h6v-2h7v-2h7v-2h7v-3h6v-2h5v-2h6v-2h5v-3h4v-2h7v-2h5v-2h4v-3h5v-2h4v-2h5v-2h4v-2h5v-3h4v-2h4v-2h5v-2h4v-3h5v-2h4v-2h5v-2h4v-3h5v-2h2v-2h5v-2h4v-3h5v-2h4v-2h2v-2h5v-3h4v-2h5v-2h2v-2h4v-3h5v-2h2v-2h5v-2h4v-2h2v-3h5v-2h4v-2h3v-2h4v-3h4v-2h3v-2h4v-2h5v-3h2v-2h4v-2h3v-2h4v-3h5v-2h2v-2h4v-2h3v-3h4v-2h5v-2h2v-2h4v-3h2v-2h5v-2h4v-2h3v-2h4v-3h2v-2h5v-2h2v-2h5v-3h2v-2h4v-2h5v-2h2v-3h5v-2h2v-2h4v-2h2v-3h5v-2h2v-2h5v-2h2v-3h4v-2h3v-2h4v-2h2v-3h5v-2h2v-2h5v-2h2v-2h4v-3h3v-2h4v-2h2v-2h5v-3h2v-2h4v-2h3v-2h4v-3h2v-2h3v-2h4v-2h2v-3h5v-2h2v-2h5v-2h2v-3h4v-2h3v-2h2v-2h4v-3h2v-2h5v-2h2v-2h5v-2h2v-3h4v-2h3v-2h2v-2h4v-3h3v-2h4v-2h2v-2h5v-3h2v-2h5v-2h4v-2h2v-3h5v-2h4v-2h5v-2h4v-3h5v-2h6v-2h7v-2h9v-3h22v3h9v2h7v2h7v2h4v3h5v2h4v2h5v2h2v3h4v2h5v2h2v2h5v3h2v2h4v2h3v2h4v3h2v2h5v2h2v2h5v3h2v2h4v2h3v2h2v2h4v3h2v2h5v2h2v2h5v3h2v2h4v2h3v2h2v3h4v2h3v2h4v2h2v3h5v2h2v2h5v2h2v3h2v2h4v2h3v2h4v3h2v2h5v2h2v2h5v2h2v3h4v2h3v2h4v2h2v3h5v2h2v2h5v2h2v3h4v2h2v2h5v2h2v3h5v2h2v2h4v2h3v3h4v2h2v2h5v2h4v3h3v2h4v2h2v2h5v2h2v3h4v2h3v2h4v2h2v3h5v2h2v2h5v2h4v3h2v2h5v2h2v2h5v3h2v2h4v2h3v2h4v3h2v2h5v2h4v2h2v3h5v2h2v2h5v2h2v2h4v3h3v2h4v2h5v2h2v3h4v2h3v2h4v2h2v3h5v2h2v2h4v2h5v3h2v2h5v2h2v2h4v3h3v2h4v2h5v2h2v3h4v2h3v2h4v2h2v2h5v3h2v2h4v2h5v2h2v3h5v2h2v2h4v2h3v3h4v2h2v2h5v2h4v3h3v2h4v2h2v2h5v3h2v2h4v2h5v2h2v3h5v2h2v2h4v2h3v2h4v3h2v2h5v2h4v2h3v3h4v2h2v2h5v2h2v3h4v2h3v2h4v2h5v3h2v2h4v2h3v2h4v3h2v2h5v2h2v2h5v3h4v2h2v2h5v2h2v2h4v3h3v2h4v2h2v2h5v3h4v2h3v2h4v2h2v3h5v2h2v2h5v2h2v3h4v2h2v2h5v2h2v3h5v2h4v2h2v2h5v3h2v2h5v2h2v2h4v2h3v3h4v2h2v2h5v2h2v3h4v2h3v2h4v2h2v3h5v2h2v2h5v2h2v3h4v2h3v2h4v2h2v3h5v2h2v2h5v2h2v3h4v2h2v2h5v2h2v2h5v3h2v2h2v2h5v2h2v3h4v2h3v2h4v2h2v3h5v2h2v2h2v2h5v3h2v2h4v2h3v2h2v3h4v2h3v2h2v2h4v3h3v2h2v2h4v2h3v2h2v3h4v2h3v2h2v2h4v3h3v2h2v2h2v2h4v3h3v2h2v2h2v2h5v3h2v2h2v2h2v2h5v3h2v2h2v2h3v2h2v3h4v2h3v2h2v2h2v2h2v3h3v2h2v2h4v2h3.5"/>
<path stroke="#5a0000" d="M244 640.5h251.5v-2h83v-3h41v-2h27v-2h20v-2h15v-2h16v-3h11v-2h11v-2h12v-2h9v-3h9v-2h6v-2h9v-2h7v-3h7v-2h6v-2h7v-2h5v-3h6v-2h5v-2h7v-2h4v-3h7v-2h4v-2h5v-2h4v-3h7v-2h4v-2h5v-2h4v-2h5v-3h4v-2h5v-2h4v-2h5v-3h4v-2h5v-2h2v-2h4v-3h5v-2h4v-2h5v-2h2v-3h5v-2h4v-2h5v-2h4v-3h2v-2h5v-2h4v-2h2v-3h5v-2h4v-2h3v-2h4v-2h5v-3h4v-2h2v-2h5v-2h2v-3h5v-2h4v-2h2v-2h5v-3h4v-2h2v-2h5v-2h2v-3h5v-2h4v-2h2v-2h5v-3h2v-2h5v-2h4v-2h2v-3h5v-2h2v-2h4v-2h5v-2h2v-3h5v-2h2v-2h4v-2h3v-3h4v-2h2v-2h5v-2h4v-3h3v-2h4v-2h2v-2h5v-3h2v-2h4v-2h3v-2h4v-3h2v-2h5v-2h2v-2h5v-3h2v-2h4v-2h3v-2h4v-2h2v-3h5v-2h2v-2h5v-2h2v-3h4v-2h2v-2h5v-2h2v-3h5v-2h2v-2h2v-2h5v-3h2v-2h4v-2h3v-2h4v-3h2v-2h5v-2h2v-2h2v-3h5v-2h2v-2h4v-2h3v-2h4v-3h2v-2h5v-2h2v-2h5v-3h2v-2h4v-2h3v-2h4v-3h2v-2h5v-2h2v-2h5v-3h4v-2h4v-2h5v-2h4v-3h5v-2h7v-2h6v-2h36v2h7v2h7v2h4v3h7v2h4v2h3v2h4v3h5v2h4v2h2v2h5v3h2v2h4v2h3v2h4v3h2v2h5v2h2v2h5v3h2v2h4v2h3v2h2v2h4v3h3v2h4v2h2v2h5v3h2v2h4v2h3v2h2v3h4v2h3v2h4v2h2v3h5v2h2v2h5v2h2v3h4v2h3v2h2v2h4v3h2v2h5v2h2v2h5v2h2v3h4v2h3v2h4v2h2v3h5v2h2v2h5v2h2v3h4v2h3v2h4v2h2v3h5v2h2v2h4v2h5v3h2v2h5v2h2v2h4v3h3v2h4v2h2v2h5v2h2v3h5v2h2v2h4v2h2v3h5v2h4v2h3v2h4v3h2v2h5v2h2v2h5v3h2v2h4v2h3v2h4v3h5v2h2v2h4v2h2v3h5v2h2v2h5v2h2v2h4v3h5v2h2v2h5v2h2v3h4v2h3v2h4v2h2v3h5v2h4v2h2v2h5v3h2v2h5v2h2v2h4v3h5v2h2v2h5v2h2v3h4v2h3v2h4v2h2v2h5v3h4v2h2v2h5v2h2v3h5v2h2v2h4v2h3v3h4v2h5v2h2v2h4v3h3v2h4v2h2v2h5v3h4v2h2v2h5v2h2v3h5v2h2v2h4v2h3v2h4v3h5v2h2v2h4v2h3v3h4v2h2v2h5v2h4v3h2v2h5v2h2v2h5v3h2v2h4v2h3v2h4v3h5v2h2v2h4v2h3v3h4v2h2v2h5v2h2v2h4v3h5v2h2v2h5v2h2v3h4v2h3v2h4v2h2v3h5v2h2v2h5v2h4v3h2v2h5v2h2v2h4v3h3v2h4v2h2v2h5v3h2v2h5v2h2v2h4v2h3v3h4v2h5v2h2v2h4v3h3v2h4v2h2v2h5v3h2v2h4v2h3v2h4v3h2v2h5v2h2v2h5v3h2v2h4v2h3v2h4v3h2v2h5v2h2v2h4v2h3v3h2v2h4v2h3v2h4v3h2v2h5v2h2v2h5v3h2v2h2v2h5v2h2v3h4v2h3v2h4v2h2v3h2v2h5v2h2v2h2v3h5v2h2v2h2v2h5v2h2v3h5v2h2v2h2v2h2v3h5v2h2v2h2v2h5v3h2v2h2v2h2v2h5v3h2v2h2v2h3v2h4v3h2v2h3v2h2v2h2v3h5v2h2v2h2v2h2v2h3v3h4v2h2v2h3v2h2v3h2v2h2v2h3.5"/>
<path stroke="#005500" d="M244 638.5h249.5v-3h81v-2h40v-2h27v-2h20v-2h16v-3h16v-2h11v-2h11v-2h11v-3h9v-2h9v-2h7v-2h9v-3h6v-2h7v-2h7v-2h7v-3h4v-2h7v-2h4v-2h7v-3h5v-2h6v-2h5v-2h4v-3h5v-2h6v-2h5v-2h4v-2h5v-3h4v-2h5v-2h4v-2h5v-3h4v-2h5v-2h4v-2h2v-3h5v-2h4v-2h5v-2h4v-3h3v-2h4v-2h5v-2h4v-3h5v-2h2v-2h4v-2h5v-3h2v-2h4v-2h5v-2h2v-2h5v-3h4v-2h2v-2h5v-2h4v-3h3v-2h4v-2h5v-2h2v-3h4v-2h5v-2h2v-2h4v-3h3v-2h4v-2h5v-2h2v-3h4v-2h3v-2h4v-2h5v-3h2v-2h4v-2h3v-2h4v-2h2v-3h5v-2h4v-2h2v-2h5v-3h2v-2h5v-2h2v-2h4v-3h3v-2h4v-2h5v-2h2v-3h4v-2h3v-2h4v-2h2v-3h5v-2h2v-2h4v-2h3v-3h4v-2h2v-2h5v-2h2v-2h5v-3h2v-2h4v-2h3v-2h4v-3h2v-2h5v-2h2v-2h4v-3h3v-2h2v-2h4v-2h3v-3h4v-2h2v-2h5v-2h2v-3h5v-2h2v-2h4v-2h3v-3h2v-2h4v-2h3v-2h4v-2h2v-3h5v-2h2v-2h4v-2h3v-3h4v-2h2v-2h5v-2h2v-3h5v-2h4v-2h2v-2h5v-3h4v-2h5v-2h4v-2h5v-3h6v-2h7v-2h9v-2h25v2h9v2h6v2h7v3h5v2h4v2h5v2h4v3h5v2h2v2h4v2h5v3h2v2h4v2h3v2h4v3h2v2h5v2h2v2h5v3h2v2h4v2h3v2h2v2h4v3h3v2h4v2h2v2h5v3h2v2h4v2h3v2h2v3h4v2h3v2h4v2h2v3h5v2h2v2h5v2h2v3h4v2h3v2h4v2h2v3h5v2h2v2h4v2h3v2h2v3h4v2h3v2h4v2h2v3h5v2h2v2h5v2h4v3h2v2h5v2h2v2h5v3h2v2h4v2h2v2h5v3h2v2h5v2h2v2h4v3h3v2h4v2h2v2h5v2h2v3h5v2h4v2h2v2h5v3h2v2h4v2h3v2h4v3h2v2h5v2h2v2h5v3h4v2h2v2h5v2h2v3h5v2h2v2h4v2h3v3h4v2h4v2h3v2h4v2h2v3h5v2h2v2h5v2h2v3h4v2h5v2h2v2h5v3h2v2h4v2h3v2h4v3h2v2h5v2h4v2h2v3h5v2h2v2h5v2h2v3h4v2h3v2h4v2h5v2h2v3h4v2h3v2h4v2h2v3h5v2h4v2h2v2h5v3h2v2h5v2h2v2h4v3h3v2h4v2h5v2h2v3h4v2h3v2h4v2h2v3h5v2h4v2h2v2h5v2h2v3h5v2h2v2h4v2h3v3h4v2h5v2h2v2h4v3h3v2h4v2h2v2h5v3h2v2h4v2h5v2h2v3h5v2h2v2h4v2h3v3h4v2h2v2h5v2h4v2h3v3h4v2h2v2h5v2h2v3h4v2h3v2h4v2h5v3h2v2h4v2h3v2h4v3h2v2h5v2h2v2h5v3h2v2h4v2h5v2h2v3h4v2h3v2h4v2h2v2h5v3h2v2h5v2h2v2h4v3h3v2h4v2h2v2h5v3h2v2h4v2h3v2h4v3h2v2h5v2h4v2h3v3h4v2h2v2h5v2h2v3h2v2h5v2h2v2h5v2h2v3h4v2h2v2h5v2h2v3h5v2h2v2h4v2h3v3h4v2h2v2h3v2h4v3h2v2h5v2h2v2h2v3h5v2h2v2h4v2h3v3h2v2h4v2h3v2h4v2h2v3h3v2h4v2h2v2h3v3h4v2h2v2h3v2h4v3h2v2h3v2h2v2h4v3h2v2h3v2h2v2h4v3h3v2h2v2h2v2h5v3h2v2h2v2h2v2h3v2h4v3h2v2h3v2h2v2h2v3h2v2h5v2h2v2h2v3h3.5"/>
<path stroke="#ff00aa" d="M244 635.5h242.5v-2h83v-2h41v-2h27v-2h20v-3h15v-2h16v-2h11v-2h11v-3h12v-2h9v-2h9v-2h6v-3h7v-2h9v-2h7v-2h6v-3h7v-2h5v-2h6v-2h5v-3h7v-2h4v-2h7v-2h4v-3h5v-2h4v-2h7v-2h4v-2h5v-3h4v-2h5v-2h4v-2h5v-3h4v-2h5v-2h4v-2h2v-3h5v-2h4v-2h5v-2h4v-3h5v-2h2v-2h5v-2h4v-3h5v-2h2v-2h4v-2h5v-3h4v-2h2v-2h5v-2h4v-2h3v-3h4v-2h5v-2h2v-2h4v-3h5v-2h2v-2h5v-2h4v-3h2v-2h5v-2h4v-2h2v-3h5v-2h2v-2h5v-2h4v-3h2v-2h5v-2h2v-2h5v-3h4v-2h2v-2h5v-2h2v-2h5v-3h2v-2h4v-2h5v-2h2v-3h4v-2h3v-2h4v-2h2v-3h5v-2h2v-2h5v-2h2v-3h4v-2h5v-2h2v-2h5v-3h2v-2h4v-2h2v-2h5v-3h2v-2h5v-2h2v-2h4v-2h3v-3h4v-2h2v-2h5v-2h2v-3h5v-2h2v-2h4v-2h3v-3h2v-2h4v-2h2v-2h5v-3h2v-2h5v-2h2v-2h4v-3h3v-2h4v-2h2v-2h5v-3h2v-2h2v-2h5v-2h2v-2h5v-3h2v-2h4v-2h2v-2h5v-3h2v-2h5v-2h2v-2h4v-3h5v-2h2v-2h5v-2h4v-3h5v-2h4v-2h5v-2h4v-3h7v-2h6v-2h14v-2h11v2h14v2h8v2h5v3h7v2h4v2h5v2h4v3h2v2h5v2h4v2h3v3h4v2h5v2h2v2h4v3h2v2h5v2h2v2h5v3h2v2h4v2h3v2h2v2h4v3h3v2h4v2h2v2h5v3h2v2h5v2h2v2h4v3h2v2h3v2h4v2h2v3h5v2h2v2h5v2h2v3h4v2h3v2h4v2h2v3h5v2h2v2h5v2h2v2h4v3h2v2h5v2h2v2h5v3h2v2h4v2h3v2h4v3h2v2h5v2h2v2h5v3h2v2h4v2h3v2h4v3h2v2h5v2h2v2h4v3h3v2h4v2h5v2h2v2h4v3h3v2h4v2h2v2h5v3h2v2h5v2h2v2h4v3h2v2h5v2h4v2h3v3h4v2h2v2h5v2h2v3h5v2h2v2h4v2h5v3h2v2h5v2h2v2h4v2h2v3h5v2h2v2h5v2h4v3h2v2h5v2h2v2h5v3h2v2h4v2h3v2h4v3h5v2h2v2h4v2h2v3h5v2h2v2h5v2h4v3h2v2h5v2h2v2h5v2h2v3h4v2h3v2h4v2h5v3h2v2h4v2h2v2h5v3h2v2h5v2h2v2h4v3h5v2h2v2h5v2h2v3h4v2h3v2h4v2h5v3h2v2h4v2h2v2h5v2h2v3h5v2h2v2h4v2h5v3h2v2h5v2h2v2h4v3h3v2h4v2h5v2h2v3h4v2h2v2h5v2h2v3h5v2h2v2h4v2h5v3h2v2h5v2h2v2h4v2h3v3h4v2h2v2h5v2h4v3h2v2h5v2h2v2h5v3h2v2h4v2h3v2h4v3h2v2h5v2h4v2h3v3h4v2h2v2h5v2h2v3h4v2h3v2h4v2h2v2h5v3h4v2h3v2h4v2h2v3h5v2h2v2h5v2h2v3h4v2h3v2h4v2h2v3h5v2h2v2h4v2h3v3h4v2h2v2h5v2h2v3h5v2h2v2h4v2h3v2h4v3h2v2h5v2h2v2h4v3h3v2h4v2h2v2h5v3h2v2h2v2h5v2h2v3h5v2h2v2h4v2h3v3h2v2h4v2h3v2h4v3h2v2h2v2h5v2h2v2h5v3h2v2h2v2h5v2h2v3h2v2h5v2h2v2h2v3h5v2h2v2h2v2h5v3h2v2h2v2h2v2h5v3h2v2h2v2h2v2h5v3h2v2h2v2h3v2h4v2h2v3h3v2h2v2h2v2h5v3h2v2h2v2h2v2h3v3h2v2h2v2h5.5"/>
<path stroke="#0055aa" d="M244 633.5h238.5v-2h83v-2h40v-2h27v-3h20v-2h16v-2h16v-2h11v-3h11v-2h9v-2h11v-2h7v-3h9v-2h7v-2h9v-2h6v-3h7v-2h4v-2h7v-2h7v-3h4v-2h7v-2h5v-2h6v-3h5v-2h4v-2h5v-2h6v-2h5v-3h4v-2h5v-2h4v-2h5v-3h4v-2h5v-2h4v-2h5v-3h2v-2h4v-2h5v-2h4v-3h5v-2h4v-2h3v-2h4v-3h5v-2h4v-2h2v-2h5v-3h4v-2h5v-2h2v-2h4v-2h5v-3h2v-2h5v-2h4v-2h2v-3h5v-2h4v-2h3v-2h4v-3h5v-2h2v-2h4v-2h5v-3h2v-2h4v-2h3v-2h4v-3h5v-2h2v-2h4v-2h3v-3h4v-2h5v-2h2v-2h4v-2h3v-3h4v-2h2v-2h5v-2h4v-3h2v-2h5v-2h2v-2h5v-3h2v-2h4v-2h3v-2h4v-3h2v-2h5v-2h2v-2h5v-3h4v-2h2v-2h5v-2h2v-3h4v-2h3v-2h4v-2h2v-2h5v-3h2v-2h5v-2h2v-2h4v-3h3v-2h4v-2h2v-2h3v-3h4v-2h2v-2h5v-2h2v-3h4v-2h3v-2h4v-2h2v-3h5v-2h2v-2h5v-2h2v-3h4v-2h3v-2h2v-2h4v-2h3v-3h4v-2h2v-2h5v-2h4v-3h2v-2h5v-2h2v-2h5v-3h2v-2h4v-2h5v-2h4v-3h5v-2h4v-2h5v-2h7v-3h4v-2h9v-2h31v2h9v2h7v3h4v2h5v2h4v2h5v3h4v2h5v2h4v2h3v3h4v2h2v2h5v2h4v3h3v2h4v2h2v2h5v3h2v2h4v2h3v2h2v2h4v3h3v2h4v2h2v2h5v3h2v2h5v2h2v2h4v3h3v2h4v2h2v2h2v3h5v2h2v2h5v2h2v3h4v2h3v2h4v2h2v3h5v2h2v2h5v2h2v2h4v3h3v2h4v2h2v2h5v3h2v2h4v2h3v2h4v3h2v2h5v2h2v2h5v3h2v2h4v2h3v2h4v3h2v2h5v2h4v2h2v3h5v2h2v2h5v2h2v2h4v3h3v2h4v2h2v2h5v3h2v2h5v2h4v2h2v3h5v2h2v2h4v2h3v3h4v2h2v2h5v2h2v3h5v2h4v2h2v2h5v3h2v2h5v2h2v2h4v2h3v3h4v2h4v2h3v2h4v3h2v2h5v2h2v2h5v3h2v2h4v2h5v2h2v3h5v2h2v2h4v2h3v3h4v2h4v2h3v2h4v3h2v2h5v2h2v2h5v2h2v3h4v2h5v2h2v2h5v3h2v2h4v2h3v2h4v3h4v2h3v2h4v2h2v3h5v2h2v2h5v2h2v3h4v2h5v2h2v2h5v3h2v2h4v2h3v2h4v2h4v3h3v2h4v2h2v2h5v3h2v2h5v2h2v2h4v3h5v2h2v2h5v2h2v3h4v2h3v2h4v2h2v3h5v2h4v2h2v2h5v3h2v2h5v2h2v2h4v2h5v3h2v2h5v2h2v2h4v3h3v2h4v2h2v2h5v3h4v2h2v2h5v2h2v3h5v2h2v2h4v2h3v3h4v2h2v2h5v2h4v3h3v2h4v2h2v2h5v2h2v3h4v2h3v2h4v2h2v3h5v2h2v2h5v2h2v3h4v2h5v2h2v2h5v3h2v2h4v2h2v2h5v3h2v2h5v2h2v2h4v3h3v2h4v2h2v2h5v2h2v3h5v2h2v2h4v2h3v3h4v2h2v2h5v2h2v3h2v2h5v2h2v2h4v3h3v2h4v2h2v2h5v3h2v2h2v2h5v2h2v3h5v2h2v2h2v2h4v2h3v3h4v2h2v2h3v2h4v3h2v2h3v2h4v2h2v3h3v2h4v2h2v2h3v3h4v2h2v2h3v2h4v3h2v2h2v2h3v2h4v3h2v2h3v2h2v2h4v2h3v3h2v2h2v2h5v2h2v3h2v2h2v2h3v2h2v3h4v2h3v2h2v2h2v3h2v2h3.5"/>
<path stroke="#6600bb" d="M244 633.5h231.5v-2h83v-2h38v-2h27v-3h20v-2h18v-2h14v-2h11v-3h11v-2h11v-2h9v-2h9v-3h7v-2h9v-2h7v-2h6v-3h7v-2h7v-2h6v-2h5v-3h7v-2h4v-2h7v-2h4v-3h5v-2h7v-2h4v-2h4v-2h5v-3h4v-2h5v-2h4v-2h5v-3h4v-2h5v-2h4v-2h5v-3h4v-2h5v-2h4v-2h2v-3h5v-2h4v-2h5v-2h4v-3h3v-2h4v-2h5v-2h4v-3h2v-2h5v-2h4v-2h3v-2h4v-3h4v-2h3v-2h4v-2h5v-3h2v-2h4v-2h5v-2h2v-3h5v-2h4v-2h2v-2h5v-3h4v-2h3v-2h4v-2h2v-3h5v-2h4v-2h2v-2h5v-3h2v-2h5v-2h4v-2h2v-2h5v-3h2v-2h5v-2h2v-2h4v-3h3v-2h4v-2h4v-2h3v-3h4v-2h2v-2h5v-2h2v-3h5v-2h2v-2h4v-2h3v-3h4v-2h2v-2h5v-2h4v-3h3v-2h4v-2h2v-2h5v-2h2v-3h4v-2h3v-2h4v-2h2v-3h5v-2h2v-2h2v-2h5v-3h2v-2h5v-2h2v-2h4v-3h3v-2h4v-2h2v-2h5v-3h2v-2h4v-2h3v-2h4v-3h2v-2h5v-2h2v-2h5v-2h2v-3h4v-2h3v-2h4v-2h2v-3h5v-2h2v-2h4v-2h5v-3h2v-2h5v-2h4v-2h5v-3h4v-2h5v-2h4v-2h7v-3h7v-2h11v-2h18v2h11v2h9v3h4v2h7v2h4v2h5v3h4v2h5v2h2v2h5v3h4v2h2v2h5v2h2v3h5v2h2v2h4v2h5v3h2v2h2v2h5v2h2v2h4v3h3v2h4v2h2v2h5v3h2v2h5v2h2v2h4v3h3v2h4v2h2v2h5v3h2v2h2v2h5v2h2v3h4v2h3v2h4v2h2v3h5v2h2v2h5v2h2v2h4v3h3v2h4v2h2v2h5v3h2v2h4v2h3v2h4v3h2v2h5v2h2v2h5v3h2v2h4v2h5v2h2v3h5v2h2v2h4v2h3v3h4v2h2v2h5v2h2v2h4v3h3v2h4v2h5v2h2v3h4v2h3v2h4v2h2v3h5v2h2v2h5v2h2v3h4v2h5v2h2v2h4v3h3v2h4v2h2v2h5v3h2v2h5v2h4v2h2v2h5v3h2v2h5v2h2v2h4v3h2v2h5v2h4v2h3v3h4v2h2v2h5v2h2v3h5v2h2v2h4v2h5v3h2v2h5v2h2v2h4v3h2v2h5v2h4v2h3v2h4v3h2v2h5v2h2v2h5v3h2v2h4v2h5v2h2v3h5v2h2v2h4v2h2v3h5v2h2v2h5v2h4v3h2v2h5v2h2v2h5v3h2v2h4v2h5v2h2v2h5v3h2v2h4v2h2v2h5v3h2v2h5v2h4v2h2v3h5v2h2v2h5v2h2v3h4v2h5v2h2v2h5v3h2v2h4v2h2v2h5v3h2v2h5v2h4v2h2v2h5v3h2v2h5v2h2v2h4v3h3v2h4v2h5v2h2v3h4v2h2v2h5v2h2v3h5v2h2v2h4v2h5v3h2v2h5v2h2v2h4v3h3v2h4v2h2v2h5v2h2v3h4v2h5v2h2v2h5v3h2v2h4v2h3v2h4v3h2v2h5v2h2v2h5v3h2v2h4v2h3v2h4v3h2v2h5v2h2v2h4v3h3v2h4v2h5v2h2v2h4v3h3v2h2v2h4v2h3v3h4v2h2v2h5v2h2v3h4v2h3v2h4v2h2v3h5v2h2v2h5v2h2v3h4v2h3v2h2v2h4v3h3v2h4v2h2v2h3v2h4v3h2v2h5v2h2v2h2v3h5v2h2v2h4v2h3v3h2v2h4v2h3v2h2v3h4v2h3v2h2v2h4v3h3v2h2v2h2v2h4v3h3v2h2v2h2v2h5v2h2v3h2v2h2v2h5v2h2v3h2v2h3v2h2v2h4v3h3v2h2v2h2v2h2v3h3v2h4v2h2v2h3.5"/>
</g>
<g filter="url(#bin)">
<g font-size="68" fill="#000">
<text transform="translate(218 1441) scale(0.93 1)">1k</text>
<text transform="translate(540 1441) scale(0.93 1)">10k</text>
<text transform="translate(857 1441) scale(0.93 1)">100k</text>
<text transform="translate(1219 1441) scale(0.93 1)">1M</text>
<text transform="translate(1545 1441) scale(0.93 1)">10M</text>
<text transform="translate(1871 1441) scale(0.93 1)">100M</text>
<text transform="translate(2245 1441) scale(0.93 1)">1G</text>
<text text-anchor="end" transform="translate(226.7 89) scale(0.93 1)">20</text>
<text text-anchor="end" transform="translate(227.2 304) scale(0.93 1)">0</text>
<text text-anchor="end" transform="translate(226.2 520) scale(0.93 1)"><tspan font-size="59" dy="-4.6">–</tspan><tspan dx="1.7" dy="4.6">20</tspan></text>
<text text-anchor="end" transform="translate(226.2 737) scale(0.93 1)"><tspan font-size="59" dy="-4.6">–</tspan><tspan dx="1.7" dy="4.6">40</tspan></text>
<text text-anchor="end" transform="translate(226.2 956) scale(0.93 1)"><tspan font-size="59" dy="-4.6">–</tspan><tspan dx="1.7" dy="4.6">60</tspan></text>
<text text-anchor="end" transform="translate(226.2 1169) scale(0.93 1)"><tspan font-size="59" dy="-4.6">–</tspan><tspan dx="1.7" dy="4.6">80</tspan></text>
<text text-anchor="end" transform="translate(226.2 1388.2) scale(0.93 1)"><tspan font-size="59" dy="-4.6">–</tspan><tspan dx="1.7" dy="4.6">100</tspan></text>
</g>
<text x="424.5" y="196" font-size="67.5" fill="#00cc00">LP</text>
<text x="2022" y="192.2" font-size="67.5" fill="#ff0000">HP</text>
<text x="2026.5" y="563.2" font-size="67.5" fill="#0000ff">BP</text>
<text transform="translate(1025 1524) scale(0.972 1)" font-size="77">Frequency (Hz)</text>
<text transform="translate(93 899) rotate(-90) scale(0.995 1)" font-size="77">Gain (dBV)</text>
</g>
</svg>
</body></html>
